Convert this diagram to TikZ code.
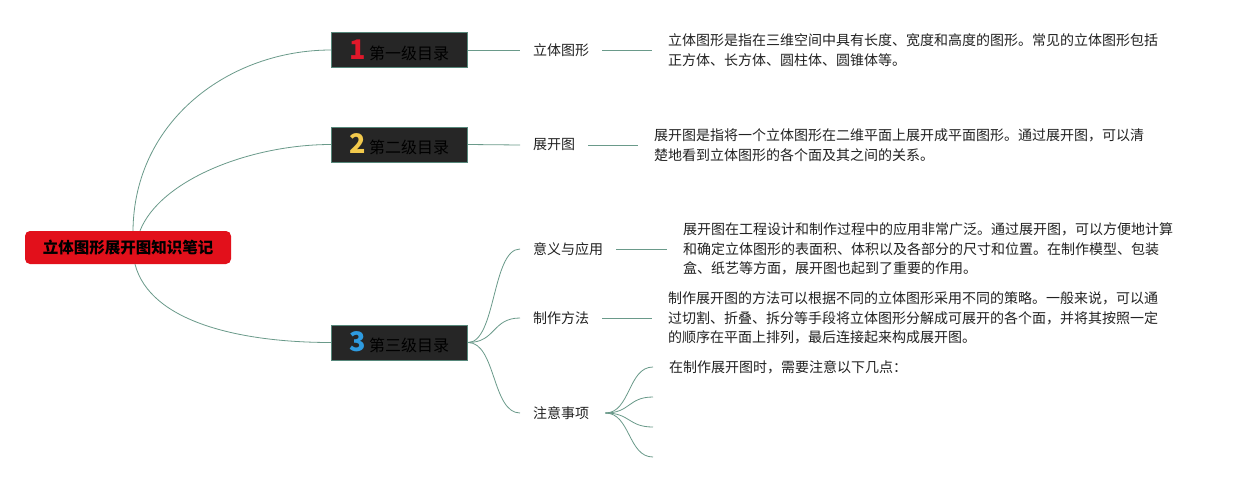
\documentclass[tikz,border=0pt]{standalone}
\usepackage{xcolor}
\usepackage{fontspec}
\setmainfont{Noto Sans CJK SC}
\usepackage{tikz}
\usetikzlibrary{calc,positioning}

\definecolor{linkgreen}{HTML}{6A9A8A}
\definecolor{rootred}{HTML}{E2101B}
\definecolor{boxdark}{HTML}{262626}
\definecolor{boxedge}{HTML}{56877A}
\definecolor{numred}{HTML}{E0182A}
\definecolor{numyellow}{HTML}{F2C94C}
\definecolor{numblue}{HTML}{2E9BE0}
\definecolor{notetext}{HTML}{222222}

\newcommand{\lvlnum}[2]{{\fontsize{27}{27}\selectfont\bfseries\color{#1}#2}\hspace{3pt}}

\begin{document}
\begin{tikzpicture}[x=1pt,y=-1pt,
  link/.style={draw=linkgreen, line width=0.8pt},
  rootbox/.style={fill=rootred, rounded corners=5pt, minimum width=206pt, minimum height=33pt, font=\fontsize{15.5}{15.5}\selectfont\bfseries},
  lvlbox/.style={fill=boxdark, draw=boxedge, line width=1pt, minimum width=136pt, minimum height=35pt, inner sep=0pt, font=\fontsize{16}{16}\selectfont},
  topic/.style={anchor=west, inner xsep=13pt, text=notetext, font=\fontsize{14}{14}\selectfont},
  note/.style={anchor=west, inner xsep=16pt, align=left, text=notetext, font=\fontsize{14}{19.5}\selectfont}]
\useasboundingbox[fill=white] (0,0) rectangle (1243,483);

% root and first level
\node[rootbox] (root) at (128,247.5) {立体图形展开图知识笔记};
\node[lvlbox] (lvlA) at (399.5,50) {\lvlnum{numred}{1}第一级目录};
\node[lvlbox] (lvlB) at (399.5,144.5) {\lvlnum{numyellow}{2}第二级目录};
\node[lvlbox] (lvlC) at (399.5,342.5) {\lvlnum{numblue}{3}第三级目录};

\draw[link] ([xshift=5pt]root.north) .. controls (134,120) and (230,50) .. (lvlA.west);
\draw[link] ([xshift=12pt]root.north) .. controls (160,180) and (250,144.5) .. (lvlB.west);
\draw[link] ([xshift=7pt]root.south) .. controls (150,322) and (240,342.5) .. (lvlC.west);

% topics
\node[topic] (topicA) at (520,50) {立体图形};
\node[topic] (topicB) at (520,145) {展开图};
\node[topic] (topicC1) at (520,249) {意义与应用};
\node[topic] (topicC2) at (520,318) {制作方法};
\node[topic] (topicC3) at (520,413) {注意事项};

\draw[link] (lvlA.east) -- (topicA.west);
\draw[link] (lvlB.east) -- (topicB.west);
\foreach \t in {C1,C2,C3} {
  \draw[link] (lvlC.east) .. controls +(28,0) and ($(topic\t.west)+(-28,0)$) .. (topic\t.west);
}

% notes
\node[note] (noteA) at (652,50) {立体图形是指在三维空间中具有长度、宽度和高度的图形。常见的立体图形包括\\正方体、长方体、圆柱体、圆锥体等。};
\node[note] (noteB) at (638,145) {展开图是指将一个立体图形在二维平面上展开成平面图形。通过展开图，可以清\\楚地看到立体图形的各个面及其之间的关系。};
\node[note] (noteC1) at (667,249) {展开图在工程设计和制作过程中的应用非常广泛。通过展开图，可以方便地计算\\和确定立体图形的表面积、体积以及各部分的尺寸和位置。在制作模型、包装\\盒、纸艺等方面，展开图也起到了重要的作用。};
\node[note] (noteC2) at (652,318) {制作展开图的方法可以根据不同的立体图形采用不同的策略。一般来说，可以通\\过切割、折叠、拆分等手段将立体图形分解成可展开的各个面，并将其按照一定\\的顺序在平面上排列，最后连接起来构成展开图。};
\node[note] (noteC3) at (653,367) {在制作展开图时，需要注意以下几点：};
\coordinate (tipB) at (653,397);
\coordinate (tipC) at (653,427);
\coordinate (tipD) at (653,457);

\draw[link] (topicA.east) -- (noteA.west);
\draw[link] (topicB.east) -- (noteB.west);
\draw[link] (topicC1.east) -- (noteC1.west);
\draw[link] (topicC2.east) -- (noteC2.west);
\foreach \e in {noteC3.west,tipB,tipC,tipD} {
  \draw[link] ([xshift=3pt]topicC3.east) .. controls +(25,0) and ($(\e)+(-25,0)$) .. (\e);
}
\end{tikzpicture}
\end{document}
